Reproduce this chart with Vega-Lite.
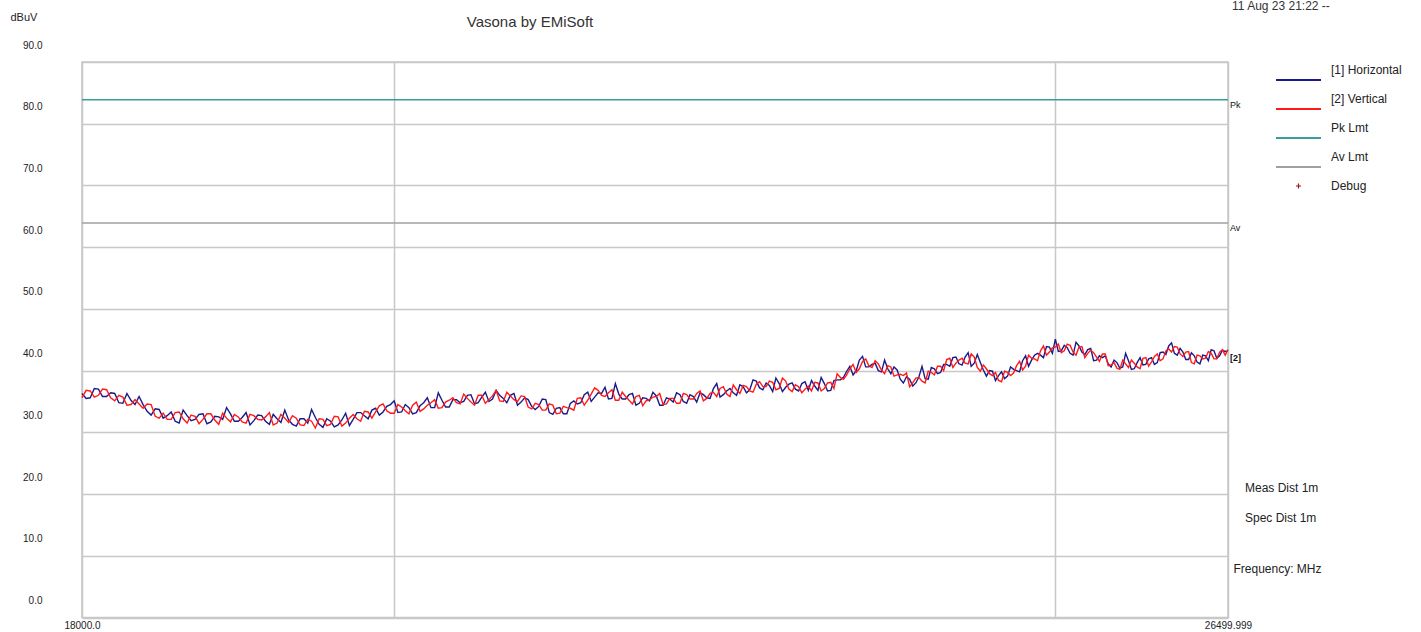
{
  "$schema": "https://vega.github.io/schema/vega-lite/v6.json",
  "width": 1146,
  "height": 555.5,
  "autosize": {"type": "none"},
  "padding": {"left": 82, "top": 62, "right": 193, "bottom": 14.5},
  "background": "white",
  "config": {
    "font": "Liberation Sans",
    "view": {"stroke": "#c8c8c8", "strokeWidth": 1.5},
    "axis": {"gridColor": "#c8c8c8", "gridWidth": 1.5, "gridOpacity": 1, "domain": false, "ticks": false, "labelFont": "Liberation Sans", "labelFontSize": 10, "labelColor": "#222"}
  },
  "data": {"values": [
    {"f":18000,"h":36.3,"v":35.6},{"f":18050,"h":35.6,"v":36.7},{"f":18100,"h":37.0,"v":36.0},{"f":18150,"h":35.8,"v":36.9},{"f":18200,"h":36.3,"v":35.1},
    {"f":18250,"h":34.7,"v":35.7},{"f":18300,"h":35.2,"v":34.5},{"f":18350,"h":35.8,"v":34.6},{"f":18400,"h":33.4,"v":34.6},{"f":18450,"h":33.8,"v":32.6},
    {"f":18500,"h":32.3,"v":33.1},{"f":18550,"h":33.3,"v":32.1},{"f":18600,"h":31.5,"v":33.3},{"f":18650,"h":32.7,"v":31.5},{"f":18700,"h":32.1,"v":32.6},
    {"f":18750,"h":33.0,"v":32.1},{"f":18800,"h":31.7,"v":33.0},{"f":18850,"h":32.5,"v":31.3},{"f":18900,"h":34.0,"v":32.3},{"f":18950,"h":31.8,"v":32.9},
    {"f":19000,"h":32.4,"v":31.7},{"f":19050,"h":31.2,"v":32.9},{"f":19100,"h":32.8,"v":32.1},{"f":19150,"h":31.8,"v":32.5},{"f":19200,"h":32.9,"v":31.2},
    {"f":19250,"h":31.6,"v":32.9},{"f":19300,"h":32.0,"v":31.6},{"f":19350,"h":31.0,"v":32.3},{"f":19400,"h":32.2,"v":31.1},{"f":19450,"h":33.7,"v":31.8},
    {"f":19500,"h":31.3,"v":32.2},{"f":19550,"h":32.2,"v":31.1},{"f":19600,"h":30.9,"v":32.6},{"f":19650,"h":32.0,"v":31.0},{"f":19700,"h":31.1,"v":32.3},
    {"f":19750,"h":33.2,"v":32.2},{"f":19800,"h":32.7,"v":33.4},{"f":19850,"h":33.6,"v":32.3},{"f":19900,"h":32.8,"v":34.3},{"f":19950,"h":34.2,"v":33.5},
    {"f":20000,"h":35.1,"v":33.1},{"f":20050,"h":33.3,"v":34.1},{"f":20100,"h":34.0,"v":33.0},{"f":20150,"h":33.2,"v":34.9},{"f":20200,"h":34.8,"v":33.8},
    {"f":20250,"h":34.0,"v":34.8},{"f":20300,"h":36.4,"v":33.9},{"f":20350,"h":34.1,"v":34.9},{"f":20400,"h":35.3,"v":35.6},{"f":20450,"h":34.8,"v":34.6},
    {"f":20500,"h":36.0,"v":35.5},{"f":20550,"h":34.6,"v":34.4},{"f":20600,"h":35.7,"v":36.0},{"f":20650,"h":35.0,"v":35.3},{"f":20700,"h":36.8,"v":36.8},
    {"f":20750,"h":35.5,"v":35.0},{"f":20800,"h":36.0,"v":35.9},{"f":20850,"h":34.4,"v":35.0},{"f":20900,"h":35.6,"v":35.8},{"f":20950,"h":34.2,"v":33.8},
    {"f":21000,"h":34.2,"v":34.5},{"f":21050,"h":35.3,"v":33.6},{"f":21100,"h":32.9,"v":34.4},{"f":21150,"h":34.0,"v":33.1},{"f":21200,"h":33.0,"v":34.0},
    {"f":21250,"h":35.1,"v":33.6},{"f":21300,"h":34.8,"v":35.6},{"f":21350,"h":36.5,"v":35.2},{"f":21400,"h":35.7,"v":37.2},{"f":21450,"h":36.3,"v":36.0},
    {"f":21500,"h":35.4,"v":36.4},{"f":21550,"h":37.9,"v":35.2},{"f":21600,"h":35.4,"v":36.5},{"f":21650,"h":36.1,"v":35.2},{"f":21700,"h":34.4,"v":35.8},
    {"f":21750,"h":35.6,"v":34.3},{"f":21800,"h":35.1,"v":35.3},{"f":21850,"h":35.9,"v":35.8},{"f":21900,"h":34.4,"v":34.5},{"f":21950,"h":35.4,"v":35.5},
    {"f":22000,"h":36.4,"v":34.7},{"f":22050,"h":35.0,"v":36.3},{"f":22100,"h":36.1,"v":35.4},{"f":22150,"h":34.9,"v":36.3},{"f":22200,"h":36.1,"v":35.1},
    {"f":22250,"h":35.5,"v":36.3},{"f":22300,"h":37.9,"v":35.8},{"f":22350,"h":36.1,"v":37.4},{"f":22400,"h":37.1,"v":35.8},{"f":22450,"h":36.0,"v":36.9},
    {"f":22500,"h":37.4,"v":37.6},{"f":22550,"h":36.9,"v":36.7},{"f":22600,"h":38.3,"v":37.8},{"f":22650,"h":36.9,"v":37.4},{"f":22700,"h":37.6,"v":38.3},
    {"f":22750,"h":38.8,"v":36.9},{"f":22800,"h":36.6,"v":38.8},{"f":22850,"h":37.8,"v":37.0},{"f":22900,"h":37.0,"v":37.7},{"f":22950,"h":37.9,"v":36.4},
    {"f":23000,"h":36.8,"v":37.5},{"f":23050,"h":37.5,"v":38.1},{"f":23100,"h":38.9,"v":36.7},{"f":23150,"h":36.7,"v":38.0},{"f":23200,"h":38.4,"v":37.1},
    {"f":23250,"h":38.5,"v":38.9},{"f":23300,"h":39.9,"v":39.3},{"f":23350,"h":39.3,"v":41.0},{"f":23400,"h":41.7,"v":40.3},{"f":23450,"h":40.6,"v":41.9},
    {"f":23500,"h":41.0,"v":40.5},{"f":23550,"h":40.0,"v":41.1},{"f":23600,"h":41.7,"v":39.5},{"f":23650,"h":39.5,"v":40.6},{"f":23700,"h":40.1,"v":39.3},
    {"f":23750,"h":38.0,"v":39.2},{"f":23800,"h":38.6,"v":37.4},{"f":23850,"h":38.0,"v":38.8},{"f":23900,"h":40.7,"v":38.3},{"f":23950,"h":38.6,"v":39.9},
    {"f":24000,"h":40.3,"v":39.3},{"f":24050,"h":39.7,"v":40.7},{"f":24100,"h":41.0,"v":41.8},{"f":24150,"h":42.1,"v":40.5},{"f":24200,"h":41.1,"v":41.7},
    {"f":24250,"h":42.2,"v":41.2},{"f":24300,"h":40.7,"v":42.7},{"f":24350,"h":42.6,"v":40.5},{"f":24400,"h":40.1,"v":40.9},{"f":24450,"h":40.0,"v":39.5},
    {"f":24500,"h":38.4,"v":39.7},{"f":24550,"h":39.8,"v":38.2},{"f":24600,"h":39.1,"v":39.7},{"f":24650,"h":40.2,"v":39.6},{"f":24700,"h":39.8,"v":41.5},
    {"f":24750,"h":42.4,"v":40.7},{"f":24800,"h":41.7,"v":42.0},{"f":24850,"h":42.8,"v":41.6},{"f":24900,"h":42.1,"v":44.0},{"f":24950,"h":43.8,"v":43.0},
    {"f":25000,"h":45.1,"v":43.8},{"f":25050,"h":43.2,"v":42.9},{"f":25100,"h":43.7,"v":44.3},{"f":25150,"h":42.5,"v":43.0},{"f":25200,"h":44.0,"v":43.8},
    {"f":25250,"h":42.6,"v":42.1},{"f":25300,"h":43.6,"v":43.3},{"f":25350,"h":41.7,"v":42.2},{"f":25400,"h":42.1,"v":42.7},{"f":25450,"h":41.1,"v":40.8},
    {"f":25500,"h":41.7,"v":41.3},{"f":25550,"h":40.4,"v":40.2},{"f":25600,"h":42.8,"v":41.1},{"f":25650,"h":40.2,"v":41.7},{"f":25700,"h":41.3,"v":40.6},
    {"f":25750,"h":40.9,"v":42.0},{"f":25800,"h":41.9,"v":40.7},{"f":25850,"h":41.0,"v":42.3},{"f":25900,"h":42.9,"v":41.6},{"f":25950,"h":42.6,"v":43.2},
    {"f":26000,"h":44.5,"v":43.0},{"f":26050,"h":42.5,"v":43.8},{"f":26100,"h":43.0,"v":42.3},{"f":26150,"h":41.8,"v":43.1},{"f":26200,"h":42.4,"v":41.1},
    {"f":26250,"h":41.1,"v":42.4},{"f":26300,"h":42.4,"v":42.0},{"f":26350,"h":43.4,"v":42.8},{"f":26400,"h":42.0,"v":41.9},{"f":26450,"h":43.3,"v":43.4},
    {"f":26499.999,"h":43.2,"v":43.4},
    {"f":18025,"h":35.5,"v":36.8},{"f":18075,"h":37.1,"v":35.7},{"f":18125,"h":35.8,"v":37.0},{"f":18175,"h":36.4,"v":35.6},{"f":18225,"h":34.8,"v":36.0},
    {"f":18275,"h":36.3,"v":34.4},{"f":18325,"h":34.5,"v":35.3},{"f":18375,"h":34.5,"v":33.9},{"f":18425,"h":32.8,"v":34.5},{"f":18475,"h":33.7,"v":32.3},
    {"f":18525,"h":32.7,"v":32.1},{"f":18575,"h":31.8,"v":33.2},{"f":18625,"h":33.6,"v":32.2},{"f":18675,"h":31.9,"v":32.8},{"f":18725,"h":32.9,"v":31.4},
    {"f":18775,"h":31.4,"v":33.0},{"f":18825,"h":32.6,"v":32.0},{"f":18875,"h":32.1,"v":33.1},{"f":18925,"h":33.0,"v":31.7},{"f":18975,"h":31.8,"v":32.5},
    {"f":19025,"h":33.2,"v":31.5},{"f":19075,"h":31.9,"v":32.7},{"f":19125,"h":32.7,"v":32.0},{"f":19175,"h":31.3,"v":33.2},{"f":19225,"h":32.2,"v":31.5},
    {"f":19275,"h":33.6,"v":32.3},{"f":19325,"h":31.3,"v":32.7},{"f":19375,"h":32.2,"v":31.2},{"f":19425,"h":31.5,"v":32.1},{"f":19475,"h":32.4,"v":30.7},
    {"f":19525,"h":30.8,"v":32.1},{"f":19575,"h":31.8,"v":31.3},{"f":19625,"h":31.2,"v":32.5},{"f":19675,"h":33.1,"v":31.5},{"f":19725,"h":32.1,"v":32.9},
    {"f":19775,"h":33.2,"v":31.8},{"f":19825,"h":32.2,"v":33.3},{"f":19875,"h":33.9,"v":33.3},{"f":19925,"h":33.3,"v":34.6},{"f":19975,"h":34.5,"v":33.1},
    {"f":20025,"h":33.2,"v":34.5},{"f":20075,"h":34.5,"v":33.5},{"f":20125,"h":33.0,"v":34.4},{"f":20175,"h":34.3,"v":33.4},{"f":20225,"h":35.6,"v":34.4},
    {"f":20275,"h":34.0,"v":35.3},{"f":20325,"h":35.2,"v":34.0},{"f":20375,"h":34.1,"v":35.2},{"f":20425,"h":35.3,"v":34.8},{"f":20475,"h":35.0,"v":36.2},
    {"f":20525,"h":36.1,"v":34.9},{"f":20575,"h":34.8,"v":36.0},{"f":20625,"h":36.5,"v":34.7},{"f":20675,"h":35.4,"v":35.9},{"f":20725,"h":36.0,"v":35.1},
    {"f":20775,"h":34.8,"v":36.5},{"f":20825,"h":36.3,"v":35.3},{"f":20875,"h":34.9,"v":35.9},{"f":20925,"h":35.3,"v":34.1},{"f":20975,"h":33.7,"v":34.7},
    {"f":21025,"h":35.4,"v":33.6},{"f":21075,"h":33.2,"v":34.6},{"f":21125,"h":33.9,"v":33.0},{"f":21175,"h":33.0,"v":34.2},{"f":21225,"h":34.7,"v":33.9},
    {"f":21275,"h":34.6,"v":35.5},{"f":21325,"h":36.1,"v":34.4},{"f":21375,"h":35.0,"v":36.2},{"f":21425,"h":36.4,"v":36.8},{"f":21475,"h":37.3,"v":35.8},
    {"f":21525,"h":35.5,"v":36.9},{"f":21575,"h":36.2,"v":35.2},{"f":21625,"h":35.4,"v":35.8},{"f":21675,"h":36.3,"v":34.6},{"f":21725,"h":34.7,"v":36.0},
    {"f":21775,"h":35.5,"v":35.1},{"f":21825,"h":36.5,"v":35.7},{"f":21875,"h":34.4,"v":36.3},{"f":21925,"h":35.6,"v":34.6},{"f":21975,"h":34.9,"v":35.5},
    {"f":22025,"h":36.1,"v":34.7},{"f":22075,"h":34.7,"v":36.1},{"f":22125,"h":35.8,"v":35.4},{"f":22175,"h":36.4,"v":36.7},{"f":22225,"h":35.6,"v":35.5},
    {"f":22275,"h":37.1,"v":36.5},{"f":22325,"h":35.7,"v":37.1},{"f":22375,"h":36.7,"v":36.2},{"f":22425,"h":36.4,"v":37.7},{"f":22475,"h":37.7,"v":36.3},
    {"f":22525,"h":36.4,"v":37.4},{"f":22575,"h":38.5,"v":36.5},{"f":22625,"h":37.2,"v":38.2},{"f":22675,"h":38.0,"v":37.4},{"f":22725,"h":36.6,"v":38.1},
    {"f":22775,"h":37.9,"v":37.1},{"f":22825,"h":37.3,"v":38.3},{"f":22875,"h":38.0,"v":36.6},{"f":22925,"h":36.7,"v":37.4},{"f":22975,"h":38.2,"v":37.0},
    {"f":23025,"h":38.4,"v":36.7},{"f":23075,"h":36.8,"v":38.0},{"f":23125,"h":37.9,"v":37.1},{"f":23175,"h":36.8,"v":38.1},{"f":23225,"h":38.5,"v":39.5},
    {"f":23275,"h":38.9,"v":38.6},{"f":23325,"h":40.7,"v":40.3},{"f":23375,"h":40.0,"v":39.7},{"f":23425,"h":42.3,"v":41.5},{"f":23475,"h":40.6,"v":40.8},
    {"f":23525,"h":41.2,"v":41.6},{"f":23575,"h":39.8,"v":40.1},{"f":23625,"h":40.3,"v":40.8},{"f":23675,"h":40.6,"v":39.1},{"f":23725,"h":38.6,"v":39.4},
    {"f":23775,"h":39.0,"v":39.6},{"f":23825,"h":37.5,"v":38.0},{"f":23875,"h":39.0,"v":38.9},{"f":23925,"h":38.7,"v":38.0},{"f":23975,"h":40.5,"v":39.7},
    {"f":24025,"h":39.5,"v":40.7},{"f":24075,"h":41.0,"v":40.0},{"f":24125,"h":40.7,"v":42.0},{"f":24175,"h":42.2,"v":41.2},{"f":24225,"h":40.9,"v":42.0},
    {"f":24275,"h":42.9,"v":41.1},{"f":24325,"h":41.2,"v":42.2},{"f":24375,"h":41.3,"v":39.9},{"f":24425,"h":39.1,"v":40.3},{"f":24475,"h":39.9,"v":39.2},
    {"f":24525,"h":39.2,"v":38.4},{"f":24575,"h":38.7,"v":39.9},{"f":24625,"h":40.6,"v":39.2},{"f":24675,"h":40.0,"v":40.8},{"f":24725,"h":41.6,"v":40.1},
    {"f":24775,"h":40.7,"v":42.5},{"f":24825,"h":42.5,"v":41.9},{"f":24875,"h":42.5,"v":43.2},{"f":24925,"h":43.9,"v":42.5},{"f":24975,"h":42.8,"v":43.7},
    {"f":25025,"h":43.1,"v":44.3},{"f":25075,"h":44.1,"v":43.2},{"f":25125,"h":42.8,"v":44.1},{"f":25175,"h":44.6,"v":42.5},{"f":25225,"h":43.0,"v":43.9},
    {"f":25275,"h":43.4,"v":42.8},{"f":25325,"h":41.6,"v":42.9},{"f":25375,"h":42.4,"v":41.5},{"f":25425,"h":42.4,"v":42.7},{"f":25475,"h":40.6,"v":40.9},
    {"f":25525,"h":41.3,"v":40.4},{"f":25575,"h":40.6,"v":41.7},{"f":25625,"h":41.6,"v":40.5},{"f":25675,"h":40.3,"v":41.2},{"f":25725,"h":42.1,"v":40.3},
    {"f":25775,"h":41.0,"v":42.1},{"f":25825,"h":42.1,"v":41.4},{"f":25875,"h":41.3,"v":42.7},{"f":25925,"h":43.0,"v":41.9},{"f":25975,"h":44.0,"v":43.5},
    {"f":26025,"h":42.8,"v":43.9},{"f":26075,"h":43.6,"v":42.7},{"f":26125,"h":41.8,"v":43.0},{"f":26175,"h":42.9,"v":41.3},{"f":26225,"h":41.4,"v":42.5},
    {"f":26275,"h":42.5,"v":41.9},{"f":26325,"h":41.6,"v":43.1},{"f":26375,"h":43.2,"v":41.9},{"f":26425,"h":42.4,"v":43.0},{"f":26475,"h":43.1,"v":42.5}
  ]},
  "layer": [
    {
      "data": {"values": [{}]},
      "mark": {"type": "rule", "strokeWidth": 1.5},
      "encoding": {
        "x": {"datum": 18000, "type": "quantitative", "scale": {"type": "log", "domain": [18000, 26499.999], "nice": false},
          "axis": {"values": [18000, 20000, 25000, 26499.999], "grid": true, "labelExpr": "datum.value == 18000 ? '18000.0' : (datum.value > 26499 ? '26499.999' : '')", "labelPadding": 3, "labelFlush": false, "labelOverlap": false, "labelFontSize": 10,
            "title": "Frequency: MHz", "titleX": 1151, "titleY": -49.5, "titleAlign": "left", "titleBaseline": "middle", "titleFontSize": 12, "titleFontWeight": "normal", "titleColor": "#222", "titleFont": "Liberation Sans"}},
        "y": {"datum": 63.9, "type": "quantitative", "scale": {"domain": [0, 90], "nice": false, "zero": false},
          "axis": {"values": [0, 10, 20, 30, 40, 50, 60, 70, 80, 90], "grid": true, "labelExpr": "format(datum.value, '.1f')", "labelPadding": 40, "labelOffset": -17, "labelFontSize": 10,
            "title": "dBuV", "titleAngle": 0, "titleX": -72, "titleY": -45, "titleAlign": "left", "titleBaseline": "middle", "titleFontSize": 11, "titleFontWeight": "normal", "titleColor": "#222", "titleFont": "Liberation Sans"}},
        "x2": {"datum": 26499.999},
        "color": {"datum": "Av Lmt", "type": "nominal",
          "scale": {"domain": ["[1] Horizontal", "[2] Vertical", "Pk Lmt", "Av Lmt", "Debug"], "range": ["#1a1a8a", "#ff1a1a", "#3a9c9c", "#a0a0a0", "#9a1a1a"]},
          "legend": {"title": null, "orient": "none", "legendX": 1210.5, "legendY": 2, "symbolSize": 100, "rowPadding": 9, "labelOffset": 26.5, "labelFontSize": 12, "labelFont": "Liberation Sans", "labelColor": "#222", "padding": 0,
            "encode": {"symbols": {"update": {
              "shape": {"signal": "datum.value === 'Debug' ? 'M-0.5,0H0.5M0,-0.5V0.5' : 'M-4.5,2H4.5'"},
              "stroke": {"scale": "color", "field": "value"},
              "fill": {"value": "transparent"},
              "strokeWidth": {"signal": "datum.value === 'Debug' ? 1.2 : 2"},
              "opacity": {"value": 1}}}}}}
      }
    },
    {
      "data": {"values": [{}]},
      "mark": {"type": "rule", "strokeWidth": 1.5},
      "encoding": {"x": {"datum": 18000, "type": "quantitative"}, "x2": {"datum": 26499.999}, "y": {"datum": 83.9, "type": "quantitative"}, "color": {"datum": "Pk Lmt", "type": "nominal"}}
    },
    {
      "mark": {"type": "line", "strokeWidth": 1.4},
      "encoding": {"x": {"field": "f", "type": "quantitative"}, "y": {"field": "h", "type": "quantitative"}, "color": {"datum": "[1] Horizontal", "type": "nominal"}}
    },
    {
      "mark": {"type": "line", "strokeWidth": 1.4},
      "encoding": {"x": {"field": "f", "type": "quantitative"}, "y": {"field": "v", "type": "quantitative"}, "color": {"datum": "[2] Vertical", "type": "nominal"}}
    },
    {
      "data": {"values": [{}]},
      "mark": {"type": "text", "align": "center", "baseline": "middle", "fontSize": 15, "color": "#333", "font": "Liberation Sans"},
      "encoding": {"x": {"datum": 20938, "type": "quantitative"}, "y": {"datum": 96.5, "type": "quantitative"}, "text": {"value": "Vasona by EMiSoft"}}
    },
    {
      "data": {"values": [{}]},
      "mark": {"type": "text", "align": "left", "baseline": "middle", "dx": 4, "fontSize": 12, "color": "#333", "font": "Liberation Sans"},
      "encoding": {"x": {"datum": 26499.999, "type": "quantitative"}, "y": {"datum": 99.0, "type": "quantitative"}, "text": {"value": "11 Aug 23 21:22 --"}}
    },
    {
      "data": {"values": [{}]},
      "mark": {"type": "text", "align": "left", "baseline": "top", "dx": 2, "dy": 1, "fontSize": 9, "color": "#111", "font": "Liberation Sans"},
      "encoding": {"x": {"datum": 26499.999, "type": "quantitative"}, "y": {"datum": 83.9, "type": "quantitative"}, "text": {"value": "Pk"}}
    },
    {
      "data": {"values": [{}]},
      "mark": {"type": "text", "align": "left", "baseline": "top", "dx": 2, "dy": 1, "fontSize": 9, "color": "#111", "font": "Liberation Sans"},
      "encoding": {"x": {"datum": 26499.999, "type": "quantitative"}, "y": {"datum": 63.9, "type": "quantitative"}, "text": {"value": "Av"}}
    },
    {
      "data": {"values": [{}]},
      "mark": {"type": "text", "align": "left", "baseline": "top", "dx": 2, "dy": 1, "fontSize": 9, "fontWeight": "bold", "color": "#111", "font": "Liberation Sans"},
      "encoding": {"x": {"datum": 26499.999, "type": "quantitative"}, "y": {"datum": 42.8, "type": "quantitative"}, "text": {"value": "[2]"}}
    },
    {
      "data": {"values": [{}]},
      "mark": {"type": "text", "align": "left", "baseline": "middle", "dx": 17, "fontSize": 12, "color": "#222", "font": "Liberation Sans"},
      "encoding": {"x": {"datum": 26499.999, "type": "quantitative"}, "y": {"datum": 21.0, "type": "quantitative"}, "text": {"value": "Meas Dist 1m"}}
    },
    {
      "data": {"values": [{}]},
      "mark": {"type": "text", "align": "left", "baseline": "middle", "dx": 17, "fontSize": 12, "color": "#222", "font": "Liberation Sans"},
      "encoding": {"x": {"datum": 26499.999, "type": "quantitative"}, "y": {"datum": 16.1, "type": "quantitative"}, "text": {"value": "Spec Dist 1m"}}
    }
  ]
}
